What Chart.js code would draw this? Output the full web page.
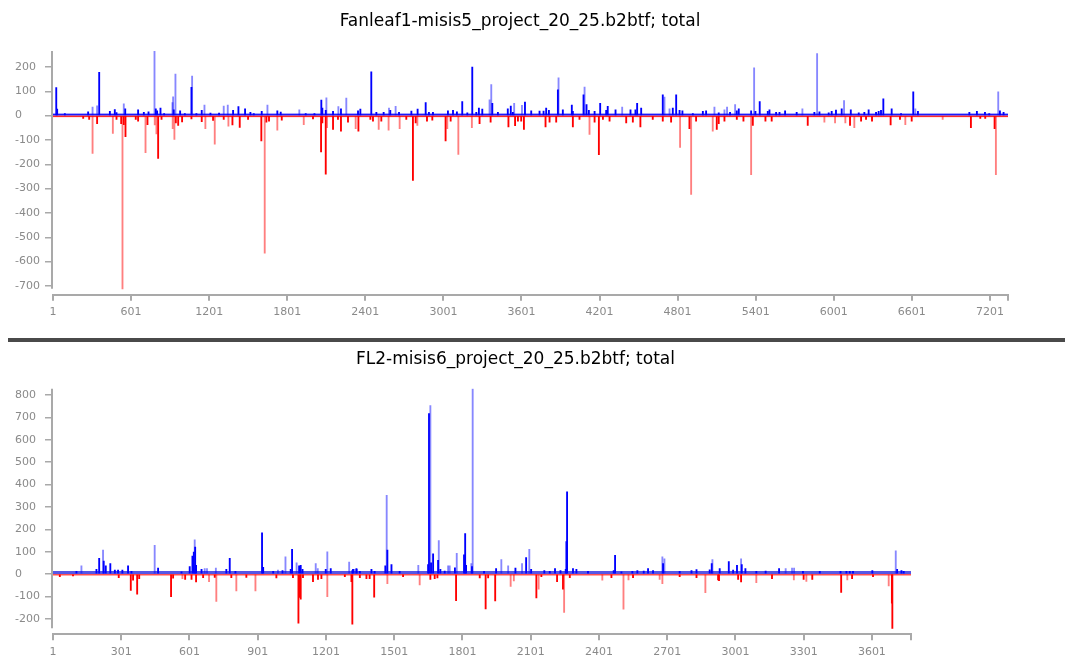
<!DOCTYPE html>
<html>
<head>
<meta charset="utf-8">
<script src="https://cdn.jsdelivr.net/npm/chart.js@4.4.1/dist/chart.umd.min.js"></script>
<style>
  html, body { margin: 0; padding: 0; background: #fff; overflow: hidden; width: 1065px; height: 657px; }
  #fanleaf { position: absolute; left: 0; top: 0; }
  #fl2 { position: absolute; left: 0; top: 344px; }
  #rule { position: absolute; left: 8px; top: 338px; width: 1057px; height: 4px; background: #4a4a4a; }
</style>
</head>
<body>
<canvas id="fanleaf" width="1040" height="335"></canvas>
<div id="rule"></div>
<canvas id="fl2" width="1040" height="330"></canvas>
<script>
// ---- Fanleaf1 / misis5 : read counts per position, [position, reads] ----
const fanleafTitle = 'Fanleaf1-misis5_project_20_25.b2btf; total';
const fanleafXTicks = [1, 601, 1201, 1801, 2401, 3001, 3601, 4201, 4801, 5401, 6001, 6601, 7201];
const fanleafYTicks = [-700, -600, -500, -400, -300, -200, -100, 0, 100, 200];
const fanleafLength = 7340;

const fanleafPlusAll = [[305,35],[340,40],[545,48],[781,266],[919,54],[924,77],[942,171],[1070,163],[1165,43],[1313,39],[1344,43],[1649,43],[1894,24],[2102,73],[2194,37],[2255,72],[2583,31],[2634,38],[3356,65],[3369,128],[3545,51],[3605,42],[3886,155],[4086,117],[4375,35],[4700,76],[4739,28],[5084,35],[5161,24],[5181,35],[5243,45],[5389,196],[5760,28],[5873,255],[6080,62],[6628,28],[7265,98]];

const fanleafPlus = [[26,115],[33,27],[92,8],[271,16],[356,178],[438,18],[476,25],[489,12],[556,28],[655,24],[699,14],[735,16],[791,28],[801,20],[827,31],[855,8],[929,24],[978,20],[1014,8],[1065,116],[1103,8],[1144,22],[1211,10],[1277,10],[1385,22],[1426,37],[1477,28],[1518,14],[1544,8],[1605,18],[1725,20],[1751,15],[1943,8],[2010,8],[2063,64],[2071,31],[2097,22],[2153,18],[2214,28],[2345,20],[2363,27],[2447,180],[2486,14],[2542,14],[2593,22],[2660,14],[2755,19],[2803,27],[2865,54],[2890,14],[2921,14],[3036,20],[3075,22],[3105,16],[3146,58],[3185,11],[3223,200],[3254,14],[3274,31],[3300,27],[3377,51],[3420,14],[3496,28],[3519,39],[3535,14],[3628,56],[3676,20],[3740,19],[3771,19],[3791,31],[3812,22],[3881,106],[3919,24],[3988,43],[3996,18],[4078,85],[4101,45],[4119,22],[4163,18],[4206,51],[4252,22],[4264,38],[4324,24],[4439,24],[4477,24],[4490,51],[4521,31],[4687,85],[4764,31],[4790,85],[4816,22],[4838,20],[4918,8],[4995,18],[5020,20],[5117,11],[5204,14],[5256,20],[5271,28],[5366,20],[5399,18],[5432,58],[5494,18],[5507,24],[5558,14],[5584,14],[5627,20],[5716,14],[5852,14],[5891,16],[5962,11],[5985,18],[6018,23],[6062,28],[6132,24],[6193,11],[6236,14],[6269,24],[6326,14],[6346,18],[6364,22],[6382,69],[6446,28],[6518,8],[6612,98],[6648,18],[7043,14],[7101,18],[7163,14],[7196,8],[7278,20],[7306,14]];

const fanleafMinusAll = [[305,-155],[461,-73],[535,-712],[712,-152],[783,-38],[796,-75],[921,-54],[934,-98],[1172,-54],[1244,-117],[1349,-43],[1628,-565],[1725,-60],[1928,-37],[2107,-50],[2327,-54],[2504,-57],[2580,-60],[2665,-54],[2801,-40],[3031,-54],[3116,-159],[3220,-50],[4124,-77],[4820,-131],[4905,-324],[5071,-64],[5366,-243],[5929,-27],[6011,-30],[6090,-30],[6159,-50],[6551,-37],[6838,-16],[7247,-243]];

const fanleafMinus = [[233,-11],[279,-16],[340,-33],[489,-16],[525,-33],[545,-37],[558,-87],[637,-16],[655,-23],[727,-37],[809,-176],[835,-16],[945,-30],[963,-40],[993,-26],[1065,-14],[1144,-25],[1231,-20],[1313,-16],[1380,-38],[1436,-49],[1500,-16],[1602,-104],[1641,-27],[1661,-23],[1759,-19],[1999,-14],[2061,-149],[2071,-30],[2097,-241],[2153,-57],[2191,-16],[2214,-64],[2268,-27],[2348,-64],[2440,-16],[2460,-23],[2524,-23],[2716,-16],[2767,-266],[2788,-30],[2875,-23],[2916,-19],[3018,-104],[3057,-23],[3279,-33],[3364,-27],[3501,-46],[3552,-41],[3574,-23],[3599,-23],[3620,-57],[3786,-46],[3817,-27],[3868,-27],[3996,-46],[4047,-16],[4163,-27],[4196,-161],[4227,-16],[4278,-23],[4406,-30],[4457,-27],[4515,-46],[4610,-16],[4687,-23],[4751,-27],[4892,-54],[4943,-23],[5102,-57],[5117,-33],[5161,-23],[5256,-16],[5307,-23],[5379,-40],[5476,-23],[5524,-23],[5801,-40],[6126,-40],[6211,-23],[6249,-16],[6295,-23],[6438,-38],[6510,-16],[6600,-23],[7055,-50],[7127,-12],[7165,-12],[7237,-54]];

// ---- FL2 / misis6 ----
const fl2Title = 'FL2-misis6_project_20_25.b2btf; total';
const fl2XTicks = [1, 301, 601, 901, 1201, 1501, 1801, 2101, 2401, 2701, 3001, 3301, 3601];
const fl2YTicks = [-200, -100, 0, 100, 200, 300, 400, 500, 600, 700, 800];
const fl2Length = 3773;

const fl2PlusAll = [[126,36],[221,107],[448,128],[624,153],[668,24],[678,24],[717,27],[990,18],[1023,77],[1072,50],[1156,47],[1165,24],[1207,99],[1303,53],[1328,21],[1338,21],[1468,352],[1607,39],[1660,754],[1697,150],[1738,36],[1745,36],[1776,92],[1840,47],[1846,829],[1972,65],[2002,36],[2063,47],[2095,110],[2680,77],[2689,68],[2900,65],[3026,68],[3222,24],[3250,27],[3259,27],[3706,104]];

const fl2Plus = [[104,12],[192,21],[204,70],[224,58],[233,36],[253,47],[273,18],[287,18],[306,18],[331,36],[346,12],[463,27],[566,10],[602,33],[614,80],[620,98],[626,120],[630,39],[654,21],[763,21],[778,70],[803,12],[920,184],[925,30],[969,12],[1010,15],[1046,21],[1052,110],[1083,36],[1090,39],[1098,21],[1200,21],[1222,24],[1317,15],[1320,21],[1335,24],[1350,12],[1401,21],[1415,12],[1462,36],[1471,107],[1489,42],[1525,12],[1650,42],[1654,718],[1663,50],[1672,90],[1694,61],[1704,21],[1723,13],[1768,28],[1808,86],[1813,181],[1817,39],[1843,33],[1896,12],[1949,24],[2034,27],[2081,73],[2103,21],[2161,15],[2185,12],[2208,24],[2232,15],[2255,21],[2258,145],[2261,368],[2287,24],[2302,21],[2353,12],[2466,15],[2472,83],[2500,10],[2548,12],[2570,15],[2598,13],[2617,24],[2639,15],[2683,47],[2756,12],[2808,15],[2830,20],[2888,19],[2897,47],[2932,24],[2972,56],[2991,18],[3008,39],[3029,42],[3045,24],[3093,12],[3134,13],[3193,24],[3298,12],[3372,12],[3463,12],[3489,12],[3504,12],[3518,12],[3603,15],[3712,21],[3731,15],[3741,12]];

const fl2MinusAll = [[570,-21],[687,-34],[719,-123],[807,-76],[891,-76],[1207,-102],[1471,-43],[1613,-49],[2013,-56],[2027,-31],[2136,-68],[2248,-172],[2416,-28],[2509,-157],[2531,-27],[2668,-24],[2680,-43],[2869,-83],[3093,-39],[3258,-27],[3313,-33],[3493,-27],[3675,-53]];

const fl2Minus = [[31,-12],[89,-9],[290,-16],[343,-73],[353,-28],[371,-90],[380,-21],[520,-102],[529,-19],[582,-24],[610,-24],[630,-36],[661,-16],[712,-15],[785,-16],[851,-15],[983,-18],[1056,-16],[1080,-220],[1086,-105],[1090,-113],[1100,-16],[1144,-34],[1166,-24],[1181,-21],[1284,-12],[1313,-34],[1317,-225],[1350,-16],[1379,-21],[1393,-21],[1413,-104],[1540,-12],[1660,-24],[1679,-21],[1691,-18],[1773,-119],[1877,-18],[1903,-156],[1914,-18],[1945,-120],[2126,-107],[2148,-12],[2217,-34],[2243,-68],[2273,-16],[2456,-16],[2551,-16],[2756,-12],[2830,-16],[2925,-27],[2929,-30],[3013,-24],[3026,-36],[3162,-21],[3301,-24],[3339,-24],[3466,-82],[3514,-21],[3606,-12],[3689,-131],[3691,-243]];

// ---- drawing ----
const FONT = 'DejaVu Sans';
const AXIS_GREY = '#a9a9a9';
const LABEL_GREY = '#8a8a8a';

// Two thin strands along zero: plus strand above, minus strand below.
const zeroBand = {
  id: 'zeroBand',
  beforeDatasetsDraw(chart, args, opts) {
    const { ctx, scales: { x, y } } = chart;
    const y0 = y.getPixelForValue(0);
    const x0 = x.getPixelForValue(x.min), x1 = x.getPixelForValue(x.max);
    ctx.save();
    ctx.fillStyle = opts.above;
    ctx.fillRect(x0, y0 - opts.aboveH, x1 - x0, opts.aboveH);
    ctx.fillStyle = opts.below;
    ctx.fillRect(x0, y0, x1 - x0, opts.belowH);
    ctx.restore();
  }
};

// Value axis line spanning only the data range.
const valueAxisLine = {
  id: 'valueAxisLine',
  beforeDatasetsDraw(chart, args, opts) {
    const { ctx, chartArea, scales: { y } } = chart;
    ctx.save();
    ctx.strokeStyle = AXIS_GREY;
    ctx.lineWidth = 2;
    ctx.beginPath();
    ctx.moveTo(chartArea.left - 1, y.getPixelForValue(opts.top));
    ctx.lineTo(chartArea.left - 1, y.getPixelForValue(opts.bottom));
    ctx.stroke();
    ctx.restore();
  }
};

function pts(pairs) { return pairs.map(([x, y]) => ({ x, y })); }

function drawProfile(id, s) {
  const all = [].concat(s.plusAll, s.plus, s.minusAll, s.minus).map(p => p[1]);
  const hi = Math.max(...all), lo = Math.min(...all);
  const gap = (hi - lo) * 0.025;
  const bar = (data, color, order) => ({
    data: pts(data), backgroundColor: color, borderWidth: 0,
    barThickness: 1.2, grouped: false, order
  });
  const tickVals = s.xTicks.concat([s.length]);
  return new Chart(document.getElementById(id), {
    type: 'bar',
    data: {
      datasets: [
        bar(s.plusAll, 'rgba(0,0,255,0.47)', 2),
        bar(s.plus, '#0000ff', 1),
        bar(s.minusAll, 'rgba(255,0,0,0.5)', 2),
        bar(s.minus, '#ff0000', 1)
      ]
    },
    options: {
      responsive: false,
      devicePixelRatio: 1,
      animation: false,
      layout: { padding: { left: 15, right: s.padRight, top: 0, bottom: s.padBottom } },
      plugins: {
        legend: { display: false },
        tooltip: { enabled: false },
        title: {
          display: true, text: s.title, color: '#000',
          font: { family: FONT, size: 17, weight: 'normal' },
          padding: { top: s.titleTop, bottom: s.titleBottom }
        },
        zeroBand: s.band,
        valueAxisLine: { top: hi, bottom: lo }
      },
      scales: {
        x: {
          type: 'linear', min: 1, max: s.length, offset: false,
          border: { display: true, color: AXIS_GREY, width: 2 },
          grid: { display: true, drawOnChartArea: false, offset: false, color: AXIS_GREY, lineWidth: 2, tickLength: 6 },
          ticks: {
            autoSkip: false, maxRotation: 0, color: LABEL_GREY, padding: 5,
            font: { family: FONT, size: 11 },
            callback: v => (s.xTicks.includes(v) ? String(v) : '')
          },
          afterBuildTicks(scale) { scale.ticks = tickVals.map(v => ({ value: v })); }
        },
        y: {
          min: lo - gap, max: hi,
          border: { display: false },
          grid: { display: true, drawOnChartArea: false, color: AXIS_GREY, lineWidth: 1.5, tickLength: 8 },
          ticks: {
            crossAlign: 'far', color: LABEL_GREY, padding: 0,
            font: { family: FONT, size: 11 }
          },
          afterBuildTicks(scale) { scale.ticks = s.yTicks.map(v => ({ value: v })); },
          afterFit(scale) { scale.width = 38; }
        },
        spacer: {
          position: 'right', display: true,
          grid: { display: false }, border: { display: false }, ticks: { display: false },
          afterFit(scale) { scale.width = s.spacer; }
        }
      }
    },
    plugins: [zeroBand, valueAxisLine]
  });
}

drawProfile('fanleaf', {
  title: fanleafTitle, xTicks: fanleafXTicks, yTicks: fanleafYTicks, length: fanleafLength,
  plusAll: fanleafPlusAll, plus: fanleafPlus, minusAll: fanleafMinusAll, minus: fanleafMinus,
  padRight: 15, spacer: 17, padBottom: 11, titleTop: 11, titleBottom: 19.5,
  band: { above: '#1a1aff', aboveH: 2, below: '#ff2a2a', belowH: 1.5 }
});

drawProfile('fl2', {
  title: fl2Title, xTicks: fl2XTicks, yTicks: fl2YTicks, length: fl2Length,
  plusAll: fl2PlusAll, plus: fl2Plus, minusAll: fl2MinusAll, minus: fl2Minus,
  padRight: 24, spacer: 105, padBottom: 10.5, titleTop: 5, titleBottom: 19.3,
  band: { above: '#5656e6', aboveH: 3, below: '#ff5050', belowH: 1.5 }
});
</script>
</body>
</html>
